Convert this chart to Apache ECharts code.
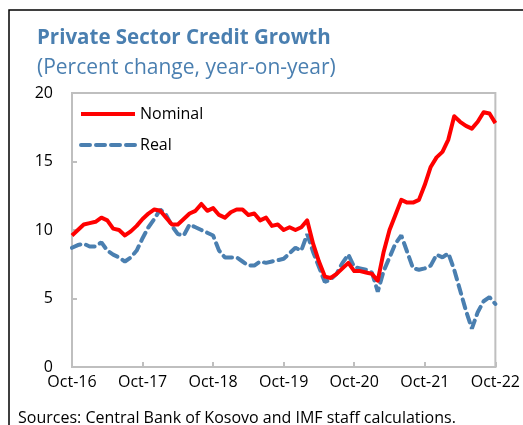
<!DOCTYPE html>
<html>
<head>
<meta charset="utf-8">
<script src="https://cdn.jsdelivr.net/npm/echarts@6/dist/echarts.min.js"></script>
<style>
  html, body { margin: 0; padding: 0; background: #fff; }
  #chart { width: 523px; height: 425px; }
</style>
</head>
<body>
<div id="chart"></div>
<script>
// monthly, Oct-16 .. Oct-22
var months = [
  'Oct-16','Nov-16','Dec-16','Jan-17','Feb-17','Mar-17','Apr-17','May-17','Jun-17','Jul-17','Aug-17','Sep-17',
  'Oct-17','Nov-17','Dec-17','Jan-18','Feb-18','Mar-18','Apr-18','May-18','Jun-18','Jul-18','Aug-18','Sep-18',
  'Oct-18','Nov-18','Dec-18','Jan-19','Feb-19','Mar-19','Apr-19','May-19','Jun-19','Jul-19','Aug-19','Sep-19',
  'Oct-19','Nov-19','Dec-19','Jan-20','Feb-20','Mar-20','Apr-20','May-20','Jun-20','Jul-20','Aug-20','Sep-20',
  'Oct-20','Nov-20','Dec-20','Jan-21','Feb-21','Mar-21','Apr-21','May-21','Jun-21','Jul-21','Aug-21','Sep-21',
  'Oct-21','Nov-21','Dec-21','Jan-22','Feb-22','Mar-22','Apr-22','May-22','Jun-22','Jul-22','Aug-22','Sep-22',
  'Oct-22'
];

var nominal = [
  9.6, 10.0, 10.4, 10.5, 10.6, 10.9, 10.7, 10.1, 10.0, 9.6, 9.9, 10.3,
  10.8, 11.2, 11.5, 11.4, 10.9, 10.4, 10.4, 10.8, 11.2, 11.4, 11.9, 11.4,
  11.6, 11.1, 10.9, 11.3, 11.5, 11.5, 11.1, 11.2, 10.7, 10.9, 10.3, 10.4,
  10.0, 10.2, 10.0, 10.2, 10.7, 9.0, 7.7, 6.6, 6.5, 6.8, 7.2, 7.6,
  7.0, 7.0, 6.9, 6.8, 6.3, 8.4, 10.0, 11.1, 12.2, 12.0, 12.0, 12.2,
  13.3, 14.6, 15.3, 15.7, 16.6, 18.3, 17.9, 17.6, 17.4, 17.9, 18.6, 18.5,
  17.8
];

var real = [
  8.7, 8.9, 9.0, 8.8, 8.8, 9.1, 8.5, 8.2, 8.0, 7.7, 8.0, 8.5,
  9.4, 10.2, 10.8, 11.5, 11.1, 10.3, 9.7, 9.6, 10.4, 10.2, 10.0, 9.8,
  9.6, 8.5, 8.0, 8.0, 8.0, 7.7, 7.4, 7.4, 7.7, 7.6, 7.7, 7.8,
  7.9, 8.3, 8.7, 8.5, 9.7, 8.4, 7.3, 6.2, 6.4, 6.8, 7.6, 8.2,
  7.3, 7.2, 7.1, 6.9, 5.5, 7.0, 8.0, 9.0, 9.6, 8.4, 7.2, 7.1,
  7.2, 7.4, 8.2, 8.0, 8.3, 7.1, 5.6, 4.1, 2.8, 4.0, 4.8, 5.1,
  4.6
];

var yTicks = { min: 0, max: 20, step: 5 };

var blue = '#4a7fb0';
var axisGrey = '#bfbfbf';
var font = 'Open Sans';

var option = {
  animation: false,
  backgroundColor: '#fff',
  textStyle: { fontFamily: font },
  title: [{
    text: 'Private Sector Credit Growth',
    left: 32,
    top: 23,
    textStyle: { color: blue, fontSize: 20.5, fontWeight: 'bold', fontFamily: font }
  }, {
    text: '(Percent change, year-on-year)',
    left: 32,
    top: 53,
    textStyle: { color: blue, fontSize: 21, fontWeight: 'normal', fontFamily: font }
  }],
  legend: {
    orient: 'vertical',
    left: 74,
    top: 101,
    itemWidth: 54,
    itemHeight: 16,
    itemGap: 15,
    itemStyle: { opacity: 0 },
    lineStyle: { width: 4 },
    textStyle: { color: '#000', fontSize: 16, fontFamily: font },
    data: ['Nominal', 'Real']
  },
  grid: {
    left: 72,
    top: 93,
    width: 424,
    height: 274,
    show: true,
    borderColor: axisGrey,
    borderWidth: 2,
    backgroundColor: '#fff'
  },
  xAxis: {
    type: 'category',
    data: months,
    boundaryGap: false,
    axisLine: { lineStyle: { color: axisGrey, width: 2 } },
    axisTick: { inside: true, length: 5, interval: 11, lineStyle: { color: axisGrey, width: 2 } },
    axisLabel: { interval: 11, color: '#000', fontSize: 16, margin: 7, fontFamily: font },
    splitLine: { show: false }
  },
  yAxis: {
    type: 'value',
    min: yTicks.min,
    max: yTicks.max,
    interval: yTicks.step,
    axisLine: { show: true, lineStyle: { color: axisGrey, width: 2 } },
    axisTick: { show: true, inside: true, length: 5, lineStyle: { color: axisGrey, width: 2 } },
    axisLabel: { color: '#000', fontSize: 16, margin: 19, fontFamily: font },
    splitLine: { show: false }
  },
  series: [{
    name: 'Nominal',
    type: 'line',
    data: nominal,
    symbol: 'none',
    color: '#ff0000',
    lineStyle: { color: '#ff0000', width: 4, join: 'round' },
    z: 3
  }, {
    name: 'Real',
    type: 'line',
    data: real,
    symbol: 'none',
    color: blue,
    lineStyle: { color: blue, width: 4, type: [9, 6], cap: 'round' },
    z: 2
  }],
  graphic: [{
    type: 'rect',
    shape: { x: 9, y: 10, width: 700, height: 600 },
    style: { fill: null, stroke: '#000', lineWidth: 1.5 },
    silent: true
  }, {
    type: 'text',
    left: 18,
    top: 410,
    style: {
      text: 'Sources: Central Bank of Kosovo and IMF staff calculations.',
      fill: '#000',
      fontSize: 16,
      fontFamily: font
    }
  }]
};

var myChart = echarts.init(document.getElementById('chart'));
myChart.setOption(option);
</script>
</body>
</html>
